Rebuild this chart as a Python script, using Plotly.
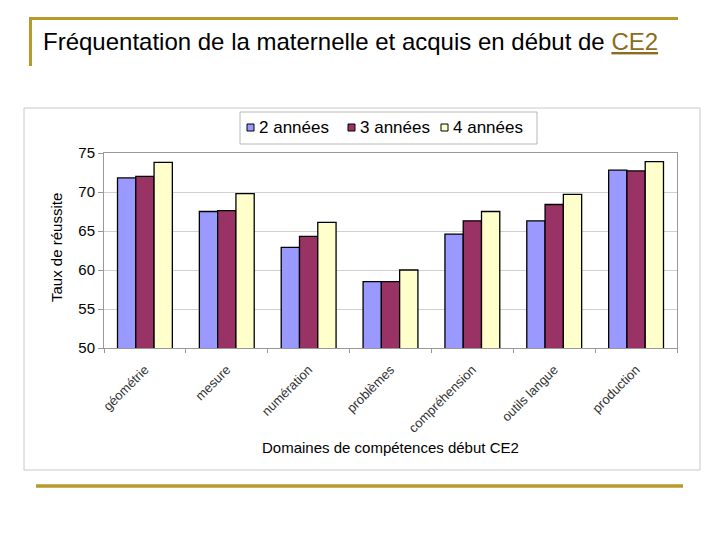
import plotly.graph_objects as go

categories = ["géométrie", "mesure", "numération", "problèmes", "compréhension", "outils langue", "production"]
series_names = ["2 années", "3 années", "4 années"]
vals_2 = [71.8, 67.5, 62.9, 58.5, 64.6, 66.3, 72.8]
vals_3 = [72.0, 67.6, 64.3, 58.5, 66.3, 68.4, 72.7]
vals_4 = [73.8, 69.8, 66.1, 60.0, 67.5, 69.7, 73.9]
colors = ["#9999FF", "#993366", "#FFFFCC"]

OFF = 8  # browser body margin
W, H = 712, 532
# plot area in reference-window pixels
L, R, T, B = 104, 677, 153, 348

def px(x):
    return (x - L) / (R - L)

def py(y):
    return (B - y) / (B - T)

FONT = "Liberation Sans, Arial, sans-serif"

fig = go.Figure()
for name, vals, c in zip(series_names, [vals_2, vals_3, vals_4], colors):
    fig.add_trace(go.Bar(
        x=categories, y=vals, name=name, showlegend=False,
        marker=dict(color=c, line=dict(color="#000000", width=1.3)),
    ))

shapes = [
    # outer chart box
    dict(type="rect", xref="paper", yref="paper", x0=px(24), x1=px(700), y0=py(470), y1=py(108),
         line=dict(color="#C8C8C8", width=1), layer="below"),
    # gold decoration lines
    dict(type="line", xref="paper", yref="paper", x0=px(29), x1=px(678), y0=py(18.5), y1=py(18.5),
         line=dict(color="#B89A2A", width=3)),
    dict(type="line", xref="paper", yref="paper", x0=px(30.5), x1=px(30.5), y0=py(17), y1=py(66),
         line=dict(color="#B89A2A", width=3)),
    dict(type="line", xref="paper", yref="paper", x0=px(36), x1=px(683), y0=py(486), y1=py(486),
         line=dict(color="#B89A2A", width=3.5)),
    # legend box
    dict(type="rect", xref="paper", yref="paper", x0=px(240), x1=px(537), y0=py(144), y1=py(112),
         line=dict(color="#B8B8B8", width=1), fillcolor="white"),
]

annotations = [
    dict(text="Fréquentation de la maternelle et acquis en début de <span style='color:#8A6D1E'><u>CE2</u></span>",
         xref="paper", yref="paper", x=px(41), y=py(41), xanchor="left", yanchor="middle",
         showarrow=False, font=dict(size=24, family=FONT, color="#000000")),
    dict(text="Taux de réussite", xref="paper", yref="paper", x=px(56), y=py(248),
         xanchor="center", yanchor="middle", textangle=-90, showarrow=False,
         font=dict(size=15, family=FONT)),
    dict(text="Domaines de compétences début CE2", xref="paper", yref="paper",
         x=px(390), y=py(447), xanchor="center", yanchor="middle", showarrow=False,
         font=dict(size=15, family=FONT)),
]

# custom legend entries
sq_x = [247, 348, 441]
txt_x = [257, 358, 451]
for name, c, sx, tx in zip(series_names, colors, sq_x, txt_x):
    shapes.append(dict(type="rect", xref="paper", yref="paper", x0=px(sx), x1=px(sx + 7),
                       y0=py(131), y1=py(124), fillcolor=c, line=dict(color="#000000", width=1)))
    annotations.append(dict(text=name, xref="paper", yref="paper", x=px(tx), y=py(127.5),
                            xanchor="left", yanchor="middle", showarrow=False,
                            font=dict(size=17, family=FONT)))

fig.update_layout(
    width=W, height=H,
    margin=dict(l=L - OFF, r=W - (R - OFF), t=T - OFF, b=H - (B - OFF)),
    paper_bgcolor="white", plot_bgcolor="white",
    font=dict(family=FONT, color="#000000"),
    barmode="group", bargap=0.33, bargroupgap=0,
    xaxis=dict(
        type="category", tickangle=-45, tickson="boundaries", ticks="outside",
        ticklen=4, tickcolor="#999999", showgrid=False,
        showline=True, linecolor="#999999", mirror=True,
        tickfont=dict(size=13, color="#333333", family=FONT),
        ticklabelstandoff=8,
    ),
    yaxis=dict(
        range=[50, 75], dtick=5, ticks="outside", ticklen=5, tickcolor="#999999",
        showgrid=True, gridcolor="#D0D0D0", showline=True, linecolor="#999999",
        mirror=True, tickfont=dict(size=15, family=FONT), zeroline=False,
    ),
    shapes=shapes,
    annotations=annotations,
)

fig.write_html("out.html")
